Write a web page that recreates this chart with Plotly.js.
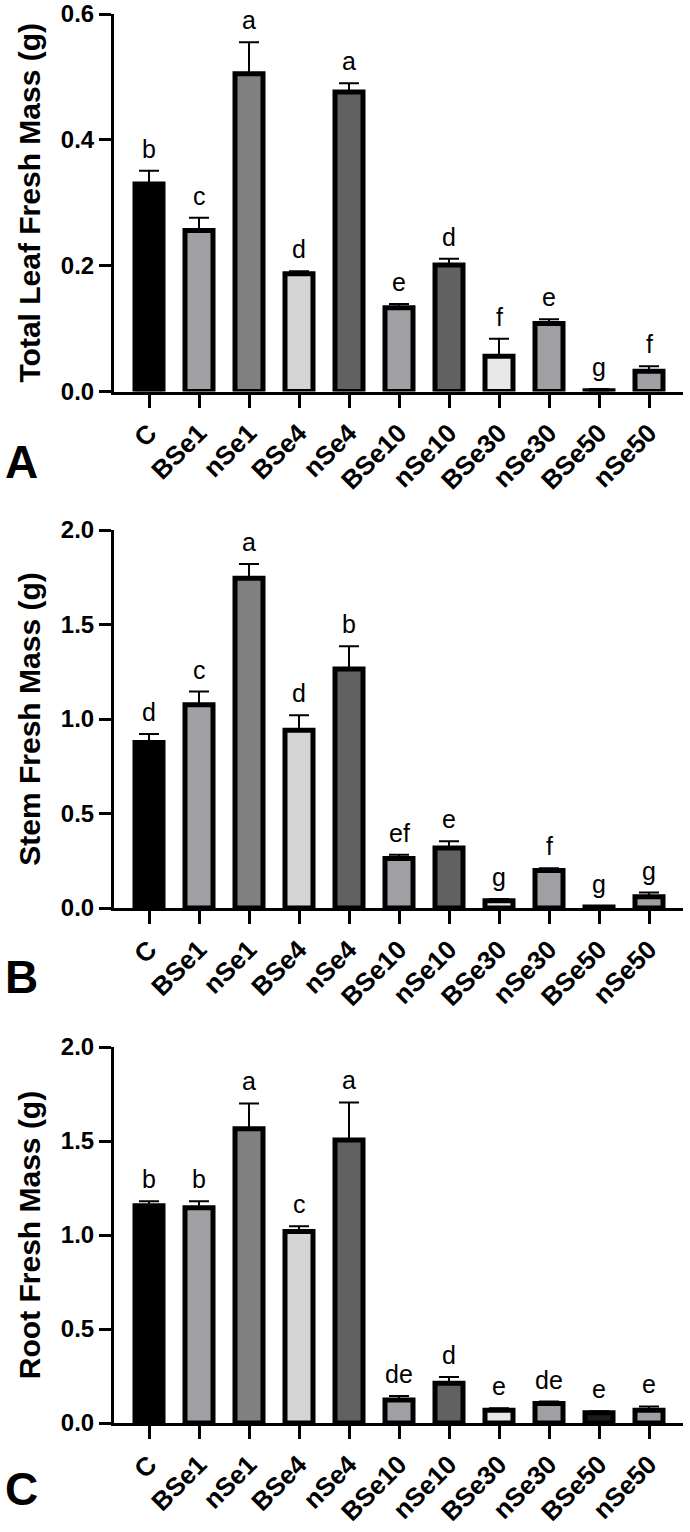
<!DOCTYPE html>
<html>
<head>
<meta charset="utf-8">
<script src="https://cdn.plot.ly/plotly-3.0.1.min.js"></script>
<style>
  html, body { margin: 0; padding: 0; background: #fff; }
  #chart { width: 690px; height: 1532px; }
</style>
</head>
<body>
<div id="chart"></div>
<script>
// ---- data ----
const categories = ['C','BSe1','nSe1','BSe4','nSe4','BSe10','nSe10','BSe30','nSe30','BSe50','nSe50'];

const leafMass    = [0.330, 0.256, 0.505, 0.187, 0.476, 0.133, 0.201, 0.056, 0.108, 0.001, 0.032];
const leafErr     = [0.021, 0.020, 0.050, 0.004, 0.014, 0.006, 0.010, 0.028, 0.007, 0.003, 0.008];
const leafLetters = ['b','c','a','d','a','e','d','f','e','g','f'];

const stemMass    = [0.875, 1.075, 1.745, 0.940, 1.265, 0.262, 0.318, 0.038, 0.198, 0.005, 0.060];
const stemErr     = [0.045, 0.070, 0.075, 0.080, 0.120, 0.020, 0.035, 0.010, 0.012, 0.003, 0.022];
const stemLetters = ['d','c','a','d','b','ef','e','g','f','g','g'];

const rootMass    = [1.155, 1.145, 1.565, 1.018, 1.505, 0.122, 0.212, 0.068, 0.104, 0.055, 0.068];
const rootErr     = [0.025, 0.035, 0.135, 0.028, 0.200, 0.022, 0.033, 0.010, 0.010, 0.008, 0.020];
const rootLetters = ['b','b','a','c','a','de','d','e','de','e','e'];

const barColors = ['#000000','#a0a0a4','#808080','#d4d4d4','#616161','#a0a0a4','#616161','#e8e8e8','#a0a0a4','#1c1c1c','#a0a0a4'];

const yTitles = ['Total Leaf Fresh Mass (g)', 'Stem Fresh Mass (g)', 'Root Fresh Mass (g)'];
const panelLabels = ['A','B','C'];
const yRanges = [[0, 0.6], [0, 2.0], [0, 2.0]];
const yTickVals = [[0, 0.2, 0.4, 0.6], [0, 0.5, 1.0, 1.5, 2.0], [0, 0.5, 1.0, 1.5, 2.0]];
const yTickText = [['0.0','0.2','0.4','0.6'], ['0.0','0.5','1.0','1.5','2.0'], ['0.0','0.5','1.0','1.5','2.0']];

// ---- layout geometry (pixels on the 690x1532 page) ----
const W = 690, H = 1532;
const FONT = 'Liberation Sans, Arial, Helvetica, sans-serif';
const xLeft = 114, xRight = 683;
const panelPx = [[14, 391.5], [530, 908], [1047, 1423]]; // top, bottom of each plot area
const letterPos = [462, 977, 1489];

const series = [
  {v: leafMass, e: leafErr, l: leafLetters},
  {v: stemMass, e: stemErr, l: stemLetters},
  {v: rootMass, e: rootErr, l: rootLetters}
];

const traces = [];
const annotations = [];
const layout = {
  width: W, height: H,
  margin: {l: 0, r: 0, t: 0, b: 0, pad: 0},
  paper_bgcolor: '#ffffff', plot_bgcolor: '#ffffff',
  showlegend: false,
  font: {family: FONT, color: '#000'},
  annotations: annotations
};

series.forEach((s, i) => {
  const n = i === 0 ? '' : String(i + 1);
  const xa = 'x' + n, ya = 'y' + n;
  traces.push({
    type: 'bar',
    x: categories,
    y: s.v,
    xaxis: xa, yaxis: ya,
    width: 0.56,
    marker: {color: barColors, line: {color: '#000000', width: 5}},
    error_y: {
      type: 'data', symmetric: false,
      array: s.e, arrayminus: s.e.map(() => 0),
      color: '#000000', thickness: 2, width: 10
    },
    hoverinfo: 'x+y'
  });
  const top = panelPx[i][0], bot = panelPx[i][1];
  layout['xaxis' + n] = {
    domain: [xLeft / W, xRight / W],
    anchor: ya,
    type: 'category',
    range: [-0.7, 10.68],
    showline: true, linecolor: '#000', linewidth: 3,
    ticks: 'outside', ticklen: 13, tickwidth: 3, tickcolor: '#000',
    tickangle: -45,
    tickfont: {family: FONT, size: 26, color: '#000', weight: 'bold'},
    showgrid: false, zeroline: false, fixedrange: true
  };
  layout['yaxis' + n] = {
    domain: [1 - bot / H, 1 - top / H],
    anchor: xa,
    range: yRanges[i],
    tickvals: yTickVals[i], ticktext: yTickText[i],
    showline: true, linecolor: '#000', linewidth: 3,
    ticks: 'outside', ticklen: 12, tickwidth: 3, tickcolor: '#000',
    tickfont: {family: FONT, size: 24, color: '#000', weight: 'bold'},
    showgrid: false, zeroline: false, fixedrange: true,
    title: {text: yTitles[i], font: {family: FONT, size: 30, color: '#000', weight: 'bold'}, standoff: 12}
  };
  // significance letters
  s.l.forEach((txt, k) => {
    annotations.push({
      xref: xa, yref: ya, x: categories[k], y: s.v[k] + s.e[k],
      text: txt, showarrow: false, yanchor: 'bottom', yshift: 6,
      font: {family: FONT, size: 25, color: '#000'}
    });
  });
  // panel letter
  annotations.push({
    xref: 'paper', yref: 'paper', x: 21 / W, y: 1 - letterPos[i] / H,
    xanchor: 'center', yanchor: 'middle',
    text: panelLabels[i], showarrow: false,
    font: {family: FONT, size: 46, color: '#000', weight: 'bold'}
  });
});

Plotly.newPlot('chart', traces, layout, {staticPlot: true, responsive: false});
</script>
</body>
</html>
